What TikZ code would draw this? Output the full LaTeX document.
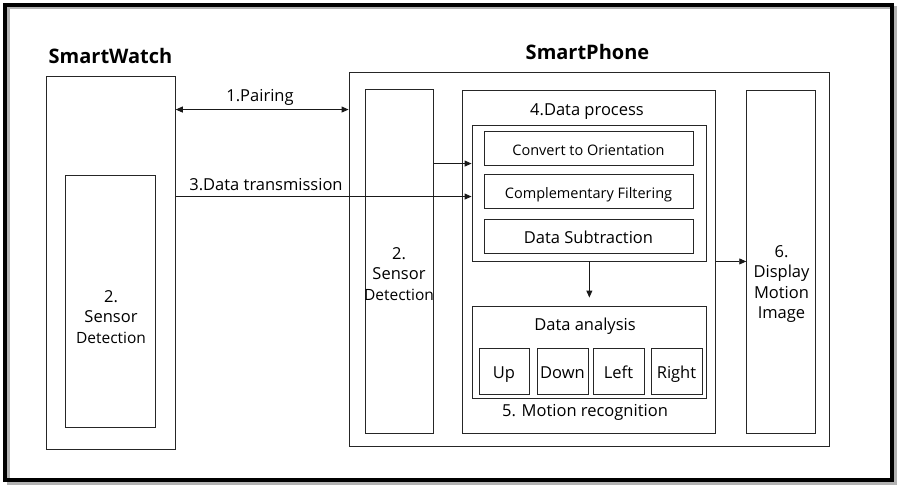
\documentclass[tikz,border=0pt]{standalone}
\usepackage{fontspec}
\setmainfont{Open Sans}
\usetikzlibrary{arrows.meta}

\begin{document}
\begin{tikzpicture}[x=1pt,y=-1pt,
        box/.style={draw=black!85,line width=0.9pt,inner sep=0pt},
        txt/.style={font=\fontsize{16.5}{20.5}\selectfont,align=center,inner sep=0pt},
        small/.style={font=\fontsize{14.5}{20}\selectfont,align=center,inner sep=0pt},
        line/.style={text height=15.5pt,text depth=0pt},
        title/.style={font=\fontsize{20}{24}\selectfont\bfseries,inner sep=0pt},
        arr/.style={black!90,line width=0.9pt,-{Triangle[length=7pt,width=6pt]}},
        biarr/.style={black!90,line width=0.9pt,{Triangle[length=7pt,width=6pt]}-{Triangle[length=7pt,width=6pt]}}]
        \useasboundingbox (0,0) rectangle (902,489);

        % 外框
        \draw[black!30,line width=3pt] (8,8) rectangle (895,483);
        \draw[black,line width=4pt] (5,5) rectangle (892,480);

        % 标题
        \node[title] (twatch) at (110.5,56) {SmartWatch};
        \node[title] (tphone) at (587.5,52) {SmartPhone};

        % SmartWatch
        \node[box,minimum width=128.6,minimum height=373] (watch) at (111,262.5) {};
        \node[box,minimum width=89.6,minimum height=252] (wsens) at (110.5,301) {};
        \node[txt] (wsenstxt) at (111,317) {2.\\Sensor\\{\fontsize{15.5}{20.5}\selectfont Detection}};

        % SmartPhone
        \node[box,minimum width=480.3,minimum height=373.3] (phone) at (589.15,259.35) {};
        \node[box,minimum width=68.7,minimum height=343.5] (psens) at (399.35,261.25) {};
        \node[txt] (psenstxt) at (399,274) {2.\\Sensor\\{\fontsize{15.5}{20.5}\selectfont Detection}};

        % 数据处理
        \node[box,minimum width=253.5,minimum height=343] (dproc) at (588.75,261.5) {};
        \node[txt] (dproctxt) at (587,112) {4.Data process};
        \node[box,minimum width=234.7,minimum height=136] (proc) at (589.35,193) {};
        \node[box,minimum width=209,minimum height=34,small,line] (conv) at (588.5,148) {Convert to Orientation};
        \node[box,minimum width=209,minimum height=34,small,line] (filt) at (588.5,191) {Complementary Filtering};
        \node[box,minimum width=209,minimum height=34,txt,line] (subt) at (588.5,236) {Data Subtraction};

        % 动作识别
        \node[box,minimum width=234.7,minimum height=91.3] (motion) at (589.35,352.35) {};
        \node[txt] (anatxt) at (585,326) {Data analysis};
        \node[box,minimum width=50,minimum height=46,txt,line] (up) at (504,371) {Up};
        \node[box,minimum width=51,minimum height=46,txt,line] (down) at (562.5,371) {Down};
        \node[box,minimum width=51,minimum height=46,txt,line] (left) at (618.5,371) {Left};
        \node[box,minimum width=51,minimum height=46,txt,line] (right) at (676.5,371) {Right};
        \node[txt] (motiontxt) at (585,412) {5. Motion recognition};

        % 显示
        \node[box,minimum width=69,minimum height=343] (disp) at (781.2,261.5) {};
        \node[txt] (disptxt) at (781.5,284) {6.\\Display\\Motion\\Image};

        % 连线
        \draw[biarr] ([yshift=-34]watch.north east) coordinate (pl) -- (pl -| phone.west);
        \node[txt] (pairtxt) at (260,97) {1.Pairing};
        \draw[arr] ([yshift=-121]watch.north east) coordinate (tl) -- (tl -| proc.west);
        \node[txt] (transtxt) at (266,185) {3.Data transmission};
        \draw[arr] ([yshift=-74.5]psens.north east) coordinate (sl) -- (sl -| proc.west);
        \draw[arr] (proc.south) -- ([yshift=8.7]motion.north);
        \draw[arr] (proc.south -| dproc.east) -- (proc.south -| disp.west);
    \end{tikzpicture}
\end{document}
